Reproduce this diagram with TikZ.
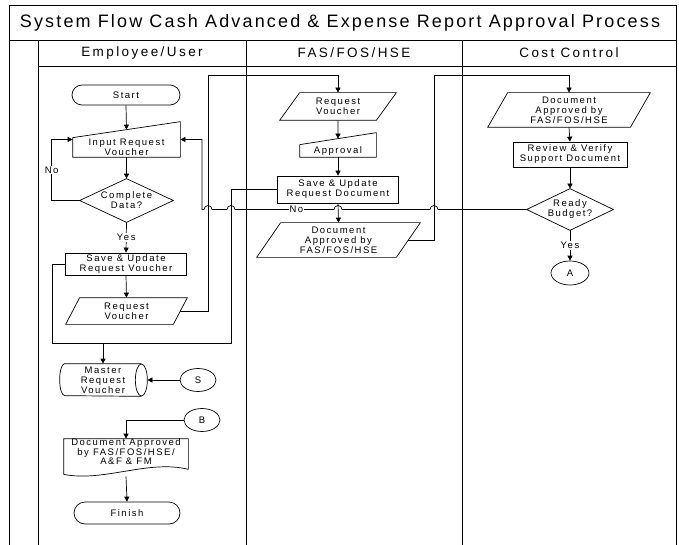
\documentclass[tikz,border=0pt]{standalone}
\usepackage{fontspec}
\setmainfont{Liberation Sans}
\newfontfamily\nodefont[LetterSpace=16]{Liberation Sans}
\newfontfamily\titlefont[LetterSpace=12]{Liberation Sans}
\newfontfamily\headfont[LetterSpace=18]{Liberation Sans}
\usetikzlibrary{arrows.meta,calc,shapes.geometric}
\begin{document}
\begin{tikzpicture}[x=1pt,y=-1pt,line width=0.7pt,
  txt/.style={font=\nodefont\fontsize{9.5}{10}\selectfont,align=center,inner sep=0pt},
  term/.style={txt,draw,rounded corners=#1},
  arr/.style={-{Triangle[length=5pt,width=5pt]}},
  lbl/.style={txt,fill=white,inner sep=1pt},
  conn/.style={txt,draw,ellipse,minimum width=36pt,minimum height=23pt},
  headtxt/.style={font=\headfont\fontsize{13.5}{15}\selectfont,inner sep=0pt}]
\useasboundingbox (0,0) rectangle (679,545);
% frame
\draw (9,545) -- (9,5) -- (676,5) -- (676,545);
\draw (9,40) -- (676,40);
\draw (38,66) -- (676,66);
\draw (38,40) -- (38,545);
\draw (246,40) -- (246,545);
\draw (462,40) -- (462,545);
\node[font=\titlefont\fontsize{18}{20}\selectfont,inner sep=0pt] (title) at (340,22.5) {System Flow Cash Advanced \& Expense Report Approval Process};
\node[headtxt] (h1) at (142,53) {Employee/User};
\node[headtxt] (h2) at (354,53) {FAS/FOS/HSE};
\node[headtxt] (h3) at (569,53) {Cost Control};

% ---- Employee/User lane
\node[term=10pt,minimum width=108pt,minimum height=20pt] (start) at (126,95) {Start};
\node[txt,minimum width=107pt,minimum height=19pt] (inp) at (126.5,147.5) {Input Request\\Voucher};
\draw (inp.south west) -- (inp.north west) -- ([yshift=16pt]inp.north east) -- (inp.south east) -- cycle;
\node[txt,minimum width=93pt,minimum height=43pt] (cd) at (126.5,200.5) {Complete\\Data?};
\draw (cd.west) -- (cd.north) -- (cd.east) -- (cd.south) -- cycle;
\node[txt,draw,minimum width=121pt,minimum height=22pt] (sv) at (126,264) {Save \& Update\\Request Voucher};
\node[txt,minimum width=121pt,minimum height=26pt] (rv) at (126.5,311) {Request\\Voucher};
\draw (rv.south west) -- ([xshift=14pt]rv.north west) -- (rv.north east) -- ([xshift=-14pt]rv.south east) -- cycle;
\node[txt,minimum width=76pt,minimum height=32pt] (mrv) at (103,380) {Master\\Request\\Voucher};
\draw (mrv.north east) -- (mrv.north west) arc[start angle=90,end angle=270,x radius=5pt,y radius=16pt] -- (mrv.south east);
\draw (mrv.east) ellipse[x radius=6pt,y radius=16pt];
\node[conn] (s) at (198,380) {S};
\node[conn] (b) at (202,420) {B};
\node[txt,font=\nodefont\fontsize{9.5}{9.5}\selectfont,minimum width=124pt,minimum height=26pt] (dab) at (126,452) {Document Approved\\by FAS/FOS/HSE/\\A\&F \& FM};
\draw ([yshift=-4pt]dab.south east) -- (dab.north east) -- (dab.north west) -- ([yshift=-9pt]dab.south west)
  .. controls +(40,8) and +(-40,-10) .. ([yshift=-4pt]dab.south east);
\node[term=11pt,minimum width=106pt,minimum height=22pt] (fin) at (127,513) {Finish};

% ---- FAS lane
\node[txt,minimum width=116pt,minimum height=27pt] (frv) at (338,106.5) {Request\\Voucher};
\draw (frv.south west) -- ([xshift=20pt]frv.north west) -- (frv.north east) -- ([xshift=-20pt]frv.south east) -- cycle;
\node[txt,minimum width=76pt,minimum height=12pt] (app) at (338,151) {Approval};
\draw (app.south west) -- (app.north west) -- ([yshift=12pt]app.north east) -- (app.south east) -- cycle;
\node[txt,draw,minimum width=121pt,minimum height=27pt] (fsv) at (338,189.5) {Save \& Update\\Request Document};
\node[txt,minimum width=163pt,minimum height=34pt] (fda) at (338.5,240) {Document\\Approved by\\FAS/FOS/HSE};
\draw (fda.south west) -- ([xshift=24pt]fda.north west) -- (fda.north east) -- ([xshift=-24pt]fda.south east) -- cycle;

% ---- Cost Control lane
\node[txt,minimum width=162pt,minimum height=34pt] (cda) at (569,110) {Document\\Approved by\\FAS/FOS/HSE};
\draw (cda.south west) -- ([xshift=20pt]cda.north west) -- (cda.north east) -- ([xshift=-20pt]cda.south east) -- cycle;
\node[txt,draw,minimum width=114pt,minimum height=25pt] (rvs) at (570,154.5) {Review \& Verify\\Support Document};
\node[txt,minimum width=86pt,minimum height=41pt] (rb) at (570,209.5) {Ready\\Budget?};
\draw (rb.west) -- (rb.north) -- (rb.east) -- (rb.south) -- cycle;
\node[conn,minimum width=38pt,minimum height=24pt] (a) at (570,273) {A};

% ---- connectors
\draw[arr] (start.south) -- ($(inp.north west)!0.5!([yshift=16pt]inp.north east)$);
\draw[arr] (inp.south) -- (cd.north);
\draw[arr] (cd.west) -- ++(-28,0) |- node[lbl,pos=0.25]{No} ([yshift=8pt]inp.west);
\draw[arr] (cd.south) -- node[lbl]{Yes} (sv.north);
\draw[arr] (sv.south) -- (rv.north);
\coordinate (c1) at (208,75);
\draw[arr] ([xshift=-7pt]rv.east) -| (c1) -| (frv.north);
\coordinate (c2) at (231,343);
\coordinate (c3) at (52,343);
\coordinate (c4) at (103,343);
\draw (fsv.west) -| (c2) -- (c3) |- (sv.west);
\draw[arr] (c4) -- (mrv.north);
\draw[arr] (s.west) -- ([xshift=6pt]mrv.east);
\draw[arr] (b.west) -| (dab.north);
\draw[arr] ([yshift=-11pt]dab.south) -- (fin.north);

\draw[arr] (frv.south) -- ($(app.north west)!0.5!([yshift=12pt]app.north east)$);
\draw[arr] (app.south) -- (fsv.north);
\draw[arr] (fsv.south) -- (fda.north);
\coordinate (c5) at (434,75);
\draw[arr] ([xshift=-12pt]fda.east) -| (c5) -| (cda.north);

\draw[arr] (cda.south) -- (rvs.north);
\draw[arr] (rvs.south) -- (rb.north);
\draw[arr] (rb.south) -- node[lbl]{Yes} (a.north);
\coordinate (c6) at (202,209.5);
\draw[arr] (rb.west) -- (438,209.5) arc[start angle=0,end angle=180,radius=4pt]
  -- (342,209.5) arc[start angle=0,end angle=180,radius=4pt]
  -- node[lbl,pos=0.38]{No} (235,209.5) arc[start angle=0,end angle=180,radius=4pt]
  -- (212,209.5) arc[start angle=0,end angle=180,radius=4pt]
  -- (c6) |- ([yshift=8pt]inp.east);
\end{tikzpicture}
\end{document}
